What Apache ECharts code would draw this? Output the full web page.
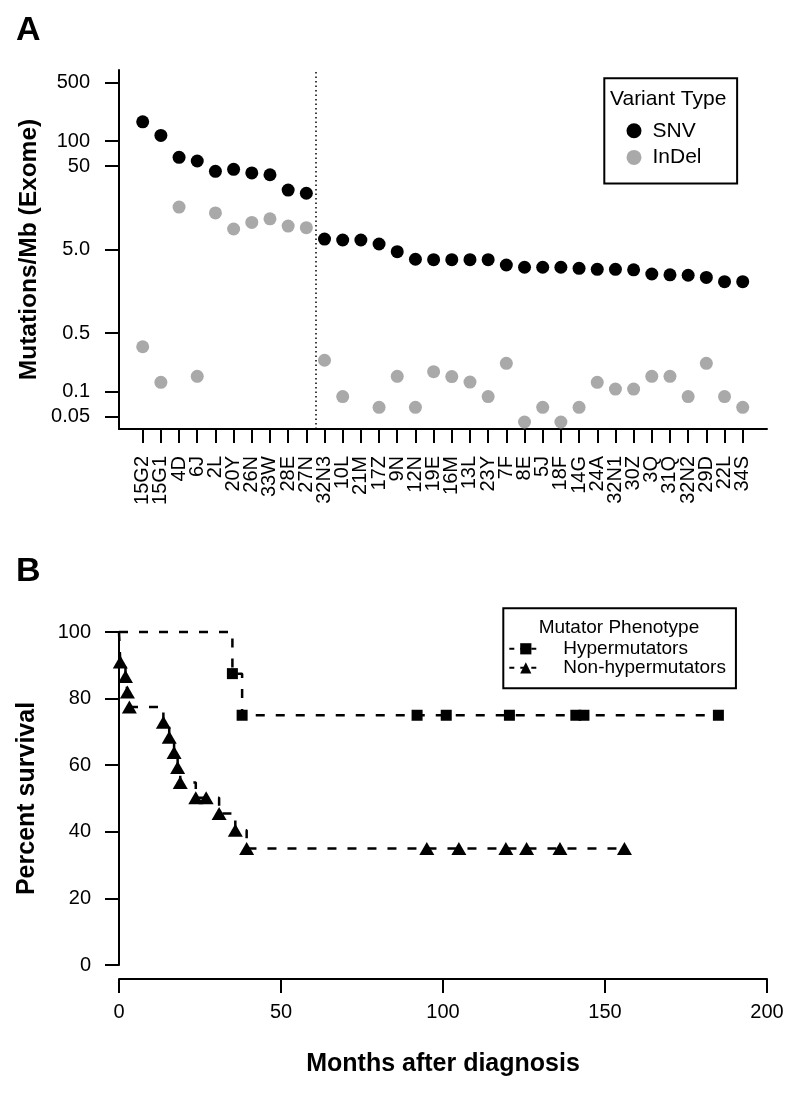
<!DOCTYPE html>
<html>
<head>
<meta charset="utf-8">
<script src="https://cdn.jsdelivr.net/npm/echarts@6/dist/echarts.min.js"></script>
<style>
html, body {margin: 0; padding: 0; background: #fff;}
#main {width: 800px; height: 1100px;}
</style>
</head>
<body>
<div id="main"></div>
<script>
// panel A: mutation rate per sample
var samples = ['15G2','15G1','4D','6J','2L','20Y','26N','33W','28E','27N','32N3','10L','21M','17Z','9N','12N','19E','16M','13L','23Y','7F','8E','5J','18F','14G','24A','32N1','30Z','3Q','31Q','32N2','29D','22L','34S'];
var snv = [170,117,63.8,57.7,43.4,45.9,41.5,39.5,25.9,23.7,6.71,6.53,6.53,5.85,4.73,3.84,3.8,3.8,3.8,3.8,3.28,3.08,3.08,3.08,2.99,2.91,2.91,2.87,2.56,2.5,2.47,2.33,2.07,2.07];
var indel = [0.344,0.129,16.2,0.152,13.8,8.85,10.6,11.7,9.6,9.18,0.237,0.087,null,0.0647,0.152,0.0647,0.173,0.151,0.13,0.087,0.218,0.0432,0.0647,0.0432,0.0647,0.129,0.107,0.107,0.152,0.152,0.087,0.218,0.087,0.0647];
var yTicksA = [0.05, 0.1, 0.5, 5, 50, 100, 500];
var yTickLabelsA = ['0.05','0.1','0.5','5.0','50','100','500'];
var splitAt = 10.5;

// panel B: survival curves
var hyperTime = [0, 35, 38, 92, 101, 120.5, 141, 143.5, 185];
var hyperSurv = [100, 87.5, 75, 75, 75, 75, 75, 75, 75];
var nonTime = [0, 0.4, 2.0, 2.6, 3.2, 13.7, 15.5, 17.0, 18.1, 18.9, 23.7, 26.9, 30.9, 35.9, 39.4, 95, 104.9, 119.4, 125.8, 136.1, 156];
var nonSurv = [100, 91, 86.6, 82, 77.5, 72.9, 68.4, 63.8, 59.3, 54.8, 50.2, 50.2, 45.5, 40.5, 35, 35, 35, 35, 35, 35, 35];

var FONT = '"Liberation Sans", Arial, Helvetica, sans-serif';
var chart = echarts.init(document.getElementById('main'));

var xMinA = -0.3035, xMaxA = 35.336;
var idx = [];
for (var i = 0; i < samples.length; i++) idx.push(i + 1);
// blank labels at both ends so the real first/last labels are not dropped as overlaps
var labelPos = [xMinA].concat(idx, [xMaxA]);

var snvData = [], indelData = [];
for (var i = 0; i < samples.length; i++) {
    snvData.push([i + 1, snv[i]]);
    if (indel[i] != null) indelData.push([i + 1, indel[i]]);
}

function kmData(t, s) {
    var res = [];
    for (var i = 0; i < t.length; i++) {
        if (i == 0) res.push({value: [t[i], s[i]], symbol: 'none'});
        else res.push([t[i], s[i]]);
    }
    return res;
}

var axisLine = {show: true, onZero: false, lineStyle: {color: '#000', width: 2}};
var axisTick = {show: true, length: 14, lineStyle: {color: '#000', width: 2}};

var option = {
    animation: false,
    textStyle: {fontFamily: FONT, color: '#000'},
    title: [
        {text: 'A', left: 16, top: 14, padding: 0, textStyle: {fontFamily: FONT, fontSize: 34, fontWeight: 'bold', color: '#000'}},
        {text: 'B', left: 16, top: 555, padding: 0, textStyle: {fontFamily: FONT, fontSize: 34, fontWeight: 'bold', color: '#000'}},
        {text: 'Variant Type', left: 610, top: 88.5, padding: 0, textStyle: {fontFamily: FONT, fontSize: 21, fontWeight: 'normal', color: '#000'}},
        {text: 'Mutator Phenotype', left: 538.7, top: 618, padding: 0, textStyle: {fontFamily: FONT, fontSize: 19, fontWeight: 'normal', color: '#000'}}
    ],
    legend: [
        {
            data: ['SNV', 'InDel'], orient: 'vertical', left: 604.3, top: 78.3,
            padding: [42, 35.6, 15.5, 22.2], itemWidth: 15, itemHeight: 15, itemGap: 5.6,
            icon: 'circle', borderColor: '#000', borderWidth: 2, selectedMode: false,
            textStyle: {fontFamily: FONT, fontSize: 21, lineHeight: 21, color: '#000', padding: [0, 0, 0, 6]}
        },
        {
            data: ['Hypermutators', 'Non-hypermutators'], orient: 'vertical', left: 503.3, top: 608.3,
            padding: [31, 10, 11, 5], itemWidth: 33, itemHeight: 14, itemGap: 0,
            borderColor: '#000', borderWidth: 2, selectedMode: false,
            lineStyle: {width: 2, type: [5, 6]},
            textStyle: {fontFamily: FONT, fontSize: 19, lineHeight: 19, color: '#000', padding: [0, 0, 0, 16]}
        }
    ],
    grid: [
        {left: 119, top: 70, width: 648, height: 359, outerBoundsMode: 'none'},
        {left: 119, top: 632, width: 648, height: 333, outerBoundsMode: 'none'}
    ],
    xAxis: [
        {
            gridIndex: 0, type: 'value', min: xMinA, max: xMaxA,
            axisLine: axisLine, axisTick: {show: true, length: 14, customValues: idx, lineStyle: {color: '#000', width: 2}},
            axisLabel: {customValues: labelPos, rotate: 90, margin: 27, fontSize: 20, color: '#000', fontFamily: FONT,
                formatter: function (v) {
                    var k = Math.round(v);
                    if (Math.abs(v - k) > 1e-6) return '';
                    return samples[k - 1] || '';
                }},
            splitLine: {show: false}
        },
        {
            gridIndex: 1, type: 'value', min: 0, max: 200, interval: 50, offset: 14,
            axisLine: axisLine, axisTick: axisTick,
            axisLabel: {margin: 23, fontSize: 20, color: '#000', fontFamily: FONT, showMinLabel: true, showMaxLabel: true},
            splitLine: {show: false},
            name: 'Months after diagnosis', nameLocation: 'middle', nameGap: 73, nameMoveOverlap: false,
            nameTextStyle: {fontFamily: FONT, fontSize: 25, fontWeight: 'bold', color: '#000'}
        }
    ],
    yAxis: [
        {
            gridIndex: 0, type: 'log', logBase: 10, min: 0.0356, max: 710,
            axisLine: axisLine, axisTick: {show: true, length: 14, customValues: yTicksA, lineStyle: {color: '#000', width: 2}},
            axisLabel: {customValues: yTicksA, margin: 29, fontSize: 20, color: '#000', fontFamily: FONT,
                showMinLabel: true, showMaxLabel: true,
                formatter: function (v) {
                    for (var k = 0; k < yTicksA.length; k++) {
                        if (Math.abs(Math.log(v / yTicksA[k])) < 1e-6) return yTickLabelsA[k];
                    }
                    return '';
                }},
            splitLine: {show: false},
            name: 'Mutations/Mb (Exome)', nameLocation: 'middle', nameGap: 77, nameMoveOverlap: false,
            nameTextStyle: {fontFamily: FONT, fontSize: 24.5, fontWeight: 'bold', color: '#000'}
        },
        {
            gridIndex: 1, type: 'value', min: 0, max: 100, interval: 20,
            axisLine: axisLine, axisTick: axisTick,
            axisLabel: {margin: 28, fontSize: 20, color: '#000', fontFamily: FONT, showMinLabel: true, showMaxLabel: true},
            splitLine: {show: false},
            name: 'Percent survival', nameLocation: 'middle', nameGap: 79, nameMoveOverlap: false,
            nameTextStyle: {fontFamily: FONT, fontSize: 25, fontWeight: 'bold', color: '#000'}
        }
    ],
    series: [
        {
            name: 'SNV', type: 'scatter', xAxisIndex: 0, yAxisIndex: 0,
            data: snvData, symbol: 'circle', symbolSize: 13,
            itemStyle: {color: '#000', opacity: 1},
            markLine: {
                silent: true, symbol: ['none', 'none'], label: {show: false},
                lineStyle: {color: '#000', type: [1.5, 3], width: 1.5},
                data: [{xAxis: splitAt}]
            }
        },
        {
            name: 'InDel', type: 'scatter', xAxisIndex: 0, yAxisIndex: 0,
            data: indelData, symbol: 'circle', symbolSize: 13,
            itemStyle: {color: '#a9a9a9', opacity: 1}
        },
        {
            name: 'Hypermutators', type: 'line', xAxisIndex: 1, yAxisIndex: 1,
            step: 'end', data: kmData(hyperTime, hyperSurv), clip: false,
            symbol: 'rect', symbolSize: 11, showAllSymbol: true,
            itemStyle: {color: '#000'},
            lineStyle: {color: '#000', width: 2.5, type: [9, 11]}
        },
        {
            name: 'Non-hypermutators', type: 'line', xAxisIndex: 1, yAxisIndex: 1,
            step: 'end', data: kmData(nonTime, nonSurv), clip: false,
            symbol: 'triangle', symbolSize: [15, 13], showAllSymbol: true,
            itemStyle: {color: '#000'},
            lineStyle: {color: '#000', width: 2.5, type: [9, 11]}
        }
    ]
};
chart.setOption(option);
</script>
</body>
</html>
